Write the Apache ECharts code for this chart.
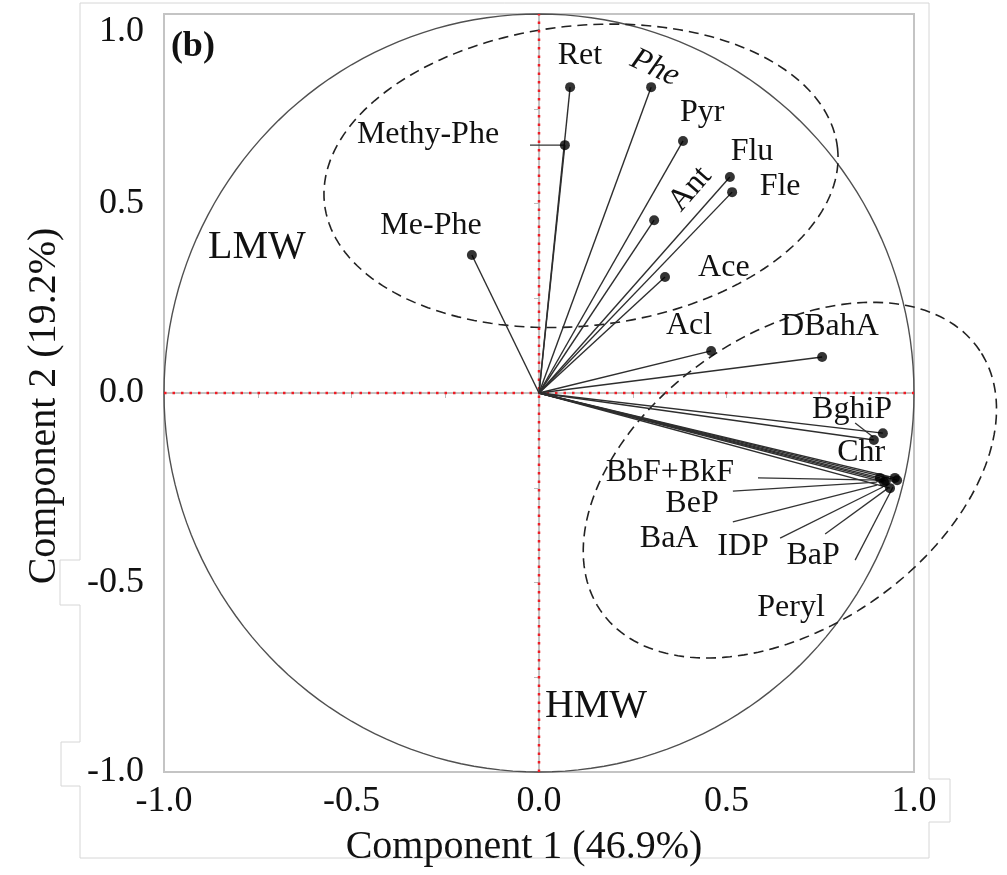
<!DOCTYPE html>
<html>
<head>
<meta charset="utf-8">
<title>PCA loadings</title>
<script src="https://cdn.jsdelivr.net/npm/echarts@6/dist/echarts.min.js"></script>
<style>
  html, body { margin: 0; padding: 0; background: #fff; }
  #main { width: 1007px; height: 875px; }
</style>
</head>
<body>
<div id="main"></div>
<script>
// loadings
var names = ['Ret', 'Methy-Phe', 'Phe', 'Pyr', 'Flu', 'Fle', 'Ant', 'Ace', 'Acl', 'DBahA', 'Me-Phe',
  'BghiP', 'Chr', 'BbF+BkF', 'BeP', 'BaA', 'IDP', 'BaP', 'Peryl'];
var comp1 = [0.083, 0.069, 0.299, 0.384, 0.509, 0.515, 0.307, 0.336, 0.459, 0.755, -0.179,
  0.917, 0.893, 0.909, 0.949, 0.925, 0.920, 0.936, 0.955];
var comp2 = [0.807, 0.654, 0.807, 0.665, 0.570, 0.530, 0.456, 0.306, 0.111, 0.095, 0.364,
  -0.106, -0.124, -0.224, -0.224, -0.232, -0.235, -0.251, -0.230];

var ticks = [-1.0, -0.5, 0.0, 0.5, 1.0];
var xName = 'Component 1 (46.9%)';
var yName = 'Component 2 (19.2%)';

// where the names sit (data units) and their tilt in degrees
var labelX = [0.109, -0.296, 0.309, 0.435, 0.568, 0.643, 0.403, 0.493, 0.400, 0.776, -0.288,
  0.835, 0.859, 0.349, 0.408, 0.347, 0.544, 0.731, 0.672];
var labelY = [0.889, 0.683, 0.858, 0.739, 0.636, 0.544, 0.538, 0.332, 0.177, 0.174, 0.443,
  -0.045, -0.156, -0.211, -0.293, -0.385, -0.404, -0.430, -0.565];
var labelRot = [0, 0, -25, 0, 0, 0, 49, 0, 0, 0, 0, 0, 0, 0, 0, 0, 0, 0, 0];

// leader lines from label to point  [x1, y1, x2, y2]
var leaders = [
  [-0.024, 0.654, 0.069, 0.654],
  [0.843, -0.079, 0.891, -0.116],
  [0.584, -0.224, 0.909, -0.230],
  [0.517, -0.259, 0.901, -0.235],
  [0.517, -0.340, 0.901, -0.243],
  [0.643, -0.383, 0.917, -0.248],
  [0.763, -0.372, 0.931, -0.251],
  [0.843, -0.441, 0.944, -0.248]
];

// group texts
var groupText = ['LMW', 'HMW', '(b)'];
var groupX = [-0.752, 0.152, -0.923];
var groupY = [0.383, -0.828, 0.913];

// correlation circle + two group ellipses: cx, cy, rx, ry, rotation(deg)
var shapes = [
  [0, 0, 1, 1, 0],
  [0.112, 0.573, 0.688, 0.396, 6],
  [0.669, -0.230, 0.611, 0.388, 34]
];

var serif = '"Liberation Serif", "Times New Roman", serif';

var myChart = echarts.init(document.getElementById('main'));

function ringPoints(api, s) {
  var pts = [];
  var a = s[4] * Math.PI / 180;
  for (var k = 0; k <= 180; k++) {
    var t = 2 * Math.PI * k / 180;
    var u = s[2] * Math.cos(t), v = s[3] * Math.sin(t);
    pts.push(api.coord([s[0] + u * Math.cos(a) - v * Math.sin(a), s[1] + u * Math.sin(a) + v * Math.cos(a)]));
  }
  return pts;
}

var option = {
  backgroundColor: '#fff',
  animation: false,
  graphic: [{
    type: 'polyline',
    silent: true,
    z: -10,
    shape: {
      points: [[80, 3], [929, 3], [929, 779], [950, 779], [950, 822], [929, 822], [929, 858],
        [80, 858], [80, 786], [61, 786], [61, 742], [80, 742], [80, 605], [60, 605], [60, 560],
        [80, 560], [80, 3]]
    },
    style: { fill: null, stroke: '#d6d6d6', lineWidth: 1 }
  }],
  grid: {
    left: 164, right: 93, top: 14, bottom: 103,
    show: true, borderColor: '#c4c4c4', borderWidth: 2
  },
  xAxis: {
    type: 'value', min: -1, max: 1, interval: 0.5,
    name: xName, nameLocation: 'middle', nameGap: 55,
    nameTextStyle: { fontFamily: serif, fontSize: 40, color: '#111', padding: [0, 30, 0, 0] },
    axisLine: { show: true, lineStyle: { color: '#c4c4c4', width: 2 } },
    axisTick: { show: true, length: 5, lineStyle: { color: '#bbb' } },
    minorTick: { show: true, splitNumber: 2, length: 5, lineStyle: { color: '#bbb' } },
    splitLine: { show: false },
    axisLabel: {
      margin: 12, fontFamily: serif, fontSize: 36, color: '#111',
      formatter: function (v) { return ticks.indexOf(v) >= 0 ? v.toFixed(1) : ''; }
    }
  },
  yAxis: {
    type: 'value', min: -1, max: 1, interval: 0.5,
    name: yName, nameLocation: 'middle', nameGap: 100,
    nameTextStyle: { fontFamily: serif, fontSize: 40, color: '#111', padding: [0, 26, 0, 0] },
    axisLine: { show: true, lineStyle: { color: '#c4c4c4', width: 2 } },
    axisTick: { show: true, length: 5, lineStyle: { color: '#bbb' } },
    minorTick: { show: true, splitNumber: 2, length: 5, lineStyle: { color: '#bbb' } },
    splitLine: { show: false },
    axisLabel: {
      margin: 20, fontFamily: serif, fontSize: 36, color: '#111',
      verticalAlignMaxLabel: 'top',
      formatter: function (v) { return v.toFixed(1); }
    }
  },
  series: [
    {
      // circle and group ellipses
      type: 'custom', silent: true, clip: false, z: 1,
      data: shapes.map(function (s) { return [s[0], s[1]]; }),
      renderItem: function (params, api) {
        var s = shapes[params.dataIndex];
        var dashed = params.dataIndex > 0;
        return {
          type: 'polyline',
          shape: { points: ringPoints(api, s) },
          style: {
            fill: null,
            stroke: dashed ? '#222' : '#505050',
            lineWidth: dashed ? 1.6 : 1.4,
            lineDash: dashed ? [10, 6] : null
          }
        };
      }
    },
    {
      // red dotted zero lines
      type: 'custom', silent: true, z: 2,
      data: [[0, -1, 0, 1], [-1, 0, 1, 0]],
      renderItem: function (params, api) {
        var p1 = api.coord([api.value(0), api.value(1)]);
        var p2 = api.coord([api.value(2), api.value(3)]);
        return {
          type: 'line',
          shape: { x1: p1[0], y1: p1[1], x2: p2[0], y2: p2[1] },
          style: { stroke: '#ee1c25', lineWidth: 2.5, lineDash: [2.5, 6] }
        };
      }
    },
    {
      // loading vectors
      type: 'custom', silent: true, z: 3,
      data: comp1.map(function (x, i) { return [x, comp2[i]]; }),
      renderItem: function (params, api) {
        var o = api.coord([0, 0]);
        var p = api.coord([api.value(0), api.value(1)]);
        return {
          type: 'line',
          shape: { x1: o[0], y1: o[1], x2: p[0], y2: p[1] },
          style: { stroke: '#2e2e2e', lineWidth: 1.4 }
        };
      }
    },
    {
      // leader lines
      type: 'custom', silent: true, z: 3,
      data: leaders,
      renderItem: function (params, api) {
        var p1 = api.coord([api.value(0), api.value(1)]);
        var p2 = api.coord([api.value(2), api.value(3)]);
        return {
          type: 'line',
          shape: { x1: p1[0], y1: p1[1], x2: p2[0], y2: p2[1] },
          style: { stroke: '#333', lineWidth: 1.3 }
        };
      }
    },
    {
      type: 'scatter', silent: true, z: 4,
      symbol: 'circle', symbolSize: 10,
      itemStyle: { color: '#000' },
      data: comp1.map(function (x, i) { return [x, comp2[i]]; })
    },
    {
      // variable names
      type: 'custom', silent: true, z: 5, clip: false,
      data: labelX.map(function (x, i) { return [x, labelY[i]]; }),
      renderItem: function (params, api) {
        var i = params.dataIndex;
        var p = api.coord([api.value(0), api.value(1)]);
        return {
          type: 'text',
          x: p[0], y: p[1],
          rotation: labelRot[i] * Math.PI / 180,
          style: {
            text: names[i],
            fill: '#111',
            font: (names[i] === 'Phe' ? 'italic ' : '') + '32px ' + serif,
            align: 'center', verticalAlign: 'middle'
          }
        };
      }
    },
    {
      // LMW / HMW / panel tag
      type: 'custom', silent: true, z: 5, clip: false,
      data: groupX.map(function (x, i) { return [x, groupY[i]]; }),
      renderItem: function (params, api) {
        var i = params.dataIndex;
        var p = api.coord([api.value(0), api.value(1)]);
        return {
          type: 'text',
          x: p[0], y: p[1],
          style: {
            text: groupText[i],
            fill: '#111',
            font: (i === 2 ? 'bold 36px ' : '40px ') + serif,
            align: 'center', verticalAlign: 'middle'
          }
        };
      }
    }
  ]
};

myChart.setOption(option);
</script>
</body>
</html>
